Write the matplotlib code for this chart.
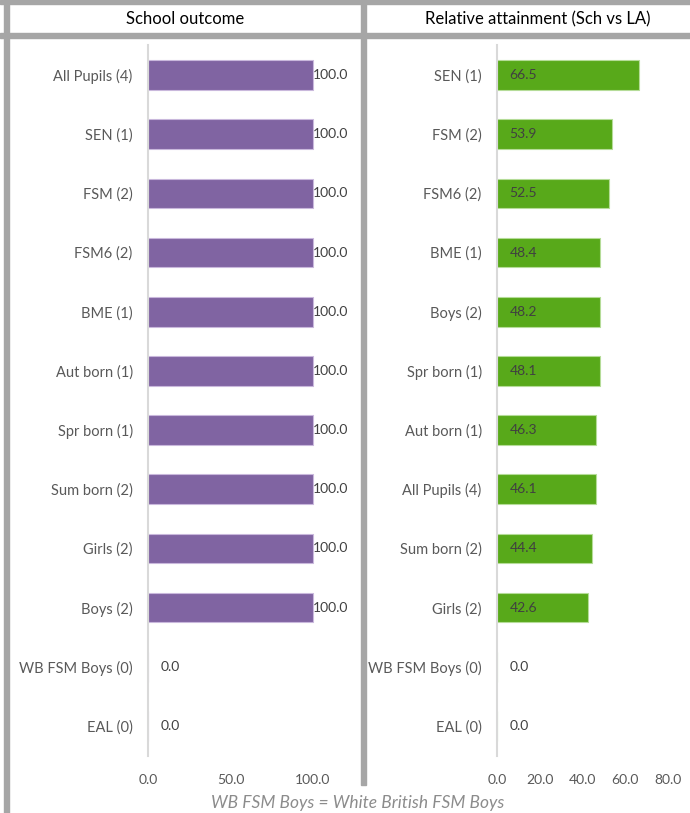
import matplotlib.pyplot as plt
from matplotlib.patches import Rectangle

plt.rcParams['font.family'] = ['Lato', 'DejaVu Sans']

# data, top to bottom
school_groups = ['All Pupils (4)', 'SEN (1)', 'FSM (2)', 'FSM6 (2)', 'BME (1)', 'Aut born (1)',
                 'Spr born (1)', 'Sum born (2)', 'Girls (2)', 'Boys (2)', 'WB FSM Boys (0)', 'EAL (0)']
school_vals = [100.0, 100.0, 100.0, 100.0, 100.0, 100.0, 100.0, 100.0, 100.0, 100.0, 0.0, 0.0]

rel_groups = ['SEN (1)', 'FSM (2)', 'FSM6 (2)', 'BME (1)', 'Boys (2)', 'Spr born (1)',
              'Aut born (1)', 'All Pupils (4)', 'Sum born (2)', 'Girls (2)', 'WB FSM Boys (0)', 'EAL (0)']
rel_vals = [66.5, 53.9, 52.5, 48.4, 48.2, 48.1, 46.3, 46.1, 44.4, 42.6, 0.0, 0.0]

left_ticks = [0, 50, 100]
right_ticks = [0, 20, 40, 60, 80]

W, H = 690, 813
fig = plt.figure(figsize=(W / 100, H / 100), dpi=100)
fig.patch.set_facecolor('white')

frame = '#a6a6a6'
def band(x0, y0, x1, y1):
    # pixel coords from top-left
    fig.patches.append(Rectangle((x0 / W, 1 - y1 / H), (x1 - x0) / W, (y1 - y0) / H,
                                 transform=fig.transFigure, color=frame, zorder=0))

band(0, 0, W, 4)
band(0, 33, W, 38)
band(4, 0, 9, H)
band(361, 0, 366, 785)

fig.text(185 / W, 1 - 19 / H, 'School outcome', ha='center', va='center', fontsize=12, color='#000000')
fig.text(538 / W, 1 - 19 / H, 'Relative attainment (Sch vs LA)', ha='center', va='center',
         fontsize=12, color='#000000')
fig.text(358 / W, 1 - 803 / H, 'WB FSM Boys = White British FSM Boys', ha='center', va='center',
         fontsize=12.5, style='italic', color='#8c8c8c')

top, bottom = 45.4, 755.6


def make_axes(x0, xmax, px_per_unit):
    width = xmax * px_per_unit
    ax = fig.add_axes([x0 / W, 1 - bottom / H, width / W, (bottom - top) / H])
    ax.set_xlim(0, xmax)
    ax.set_ylim(11.5, -0.5)
    for s in ['top', 'right', 'bottom']:
        ax.spines[s].set_visible(False)
    ax.spines['left'].set_color('#d9d9d9')
    ax.spines['left'].set_linewidth(1.5)
    ax.tick_params(length=0, labelsize=10, labelcolor='#595959')
    ax.tick_params(axis='y', pad=11, labelsize=10.5)
    ax.tick_params(axis='x', pad=13)
    ax.patch.set_alpha(0)
    return ax


ax1 = make_axes(148, 120, 1.65)
ax1.barh(range(len(school_vals)), school_vals, height=0.5, color='#8064a2', edgecolor='#c9b8dc', linewidth=0.8)
ax1.set_yticks(range(len(school_groups)))
ax1.set_yticklabels(school_groups)
ax1.set_xticks(left_ticks)
ax1.set_xticklabels([f'{t:.1f}' for t in left_ticks])
for i, v in enumerate(school_vals):
    if v > 0:
        ax1.annotate(f'{v:.1f}', (v, i), xytext=(0, 0), textcoords='offset points',
                     ha='left', va='center', fontsize=10, color='#404040')
    else:
        ax1.annotate(f'{v:.1f}', (v, i), xytext=(9, 0), textcoords='offset points',
                     ha='left', va='center', fontsize=10, color='#404040')

ax2 = make_axes(497, 85, 2.1375)
ax2.barh(range(len(rel_vals)), rel_vals, height=0.5, color='#58a91a', edgecolor='#b5dc98', linewidth=0.8)
ax2.set_yticks(range(len(rel_groups)))
ax2.set_yticklabels(rel_groups)
ax2.set_xticks(right_ticks)
ax2.set_xticklabels([f'{t:.1f}' for t in right_ticks])
for i, v in enumerate(rel_vals):
    ax2.annotate(f'{v:.1f}', (0, i), xytext=(9, 0), textcoords='offset points',
                 ha='left', va='center', fontsize=10, color='#404040')

fig.savefig('out.png', dpi=100, facecolor='white')
